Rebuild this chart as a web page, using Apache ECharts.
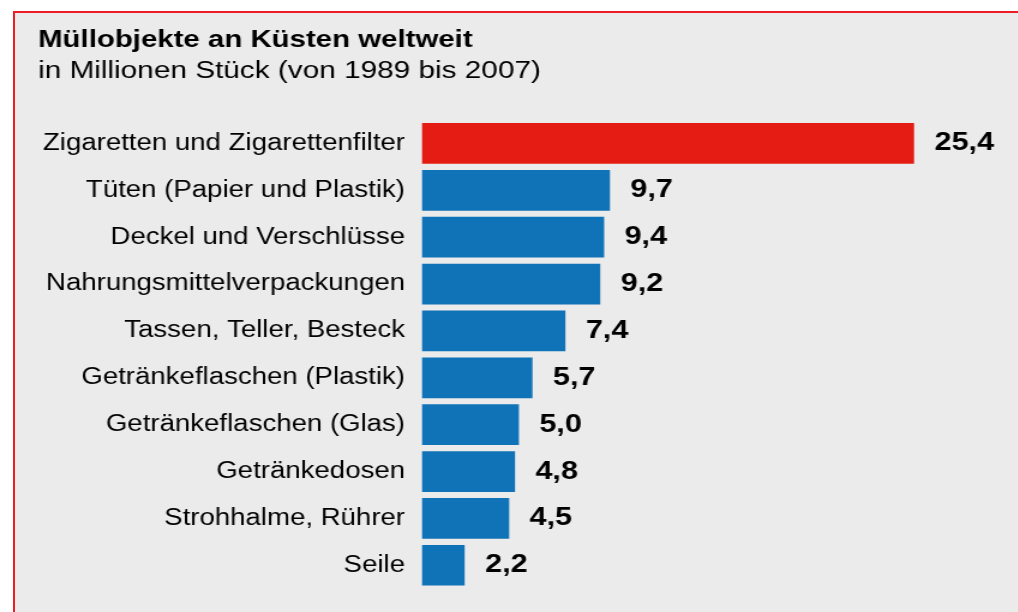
<!DOCTYPE html>
<html>
<head>
<meta charset="utf-8">
<script src="https://cdn.jsdelivr.net/npm/echarts@6/dist/echarts.min.js"></script>
<style>
    html, body {
        margin: 0;
        padding: 0;
        background: #fff;
        overflow: hidden;
    }

    #panel {
        position: absolute;
        left: 13px;
        top: 11px;
        width: 1020px;
        height: 620px;
        background: #ebebeb;
        border-left: 2px solid #ee1d25;
        border-top: 2px solid #ee1d25;
    }

    /* the reference's type is set wide, so the chart is drawn narrower and stretched */
    #chart {
        position: absolute;
        left: 0;
        top: 0;
        width: 848px;
        height: 612px;
        transform: scaleX(1.2);
        transform-origin: 0 0;
    }
</style>
</head>
<body>
<div id="panel"></div>
<div id="chart"></div>
<script>
const categories = [
    'Zigaretten und Zigarettenfilter',
    'Tüten (Papier und Plastik)',
    'Deckel und Verschlüsse',
    'Nahrungsmittelverpackungen',
    'Tassen, Teller, Besteck',
    'Getränkeflaschen (Plastik)',
    'Getränkeflaschen (Glas)',
    'Getränkedosen',
    'Strohhalme, Rührer',
    'Seile'
]
const values = [25.4, 9.7, 9.4, 9.2, 7.4, 5.7, 5.0, 4.8, 4.5, 2.2]

const FONT = "'Liberation Sans', Arial, Helvetica, sans-serif"
const RED = '#e41c13'
const BLUE = '#1073b8'

const formatValue = (v) => v.toFixed(1).replace('.', ',')

let chart = echarts.init(document.getElementById('chart'))
let options = {
    animation: false,
    title: [
        {
            text: 'Müllobjekte an Küsten weltweit',
            left: 31.7,
            top: 28,
            padding: 0,
            textStyle: {
                fontFamily: FONT,
                fontSize: 24.5,
                fontWeight: 'bold',
                color: '#000'
            }
        },
        {
            text: 'in Millionen Stück (von 1989 bis 2007)',
            left: 31.7,
            top: 59,
            padding: 0,
            textStyle: {
                fontFamily: FONT,
                fontSize: 24.8,
                fontWeight: 'normal',
                color: '#000'
            }
        }
    ],
    grid: {
        left: 351.7,
        right: 75,
        top: 120,
        bottom: 23.3,
        containLabel: false
    },
    xAxis: {
        type: 'value',
        min: 0,
        max: 26.1,
        show: false
    },
    yAxis: {
        type: 'category',
        data: categories,
        inverse: true,
        axisLine: {show: false},
        axisTick: {show: false},
        splitLine: {show: false},
        axisLabel: {
            margin: 14.2,
            fontFamily: FONT,
            fontSize: 23,
            color: '#000'
        }
    },
    series: [{
        type: 'bar',
        data: values,
        barWidth: 40.7,
        itemStyle: {
            color: (p) => p.dataIndex === 0 ? RED : BLUE
        },
        label: {
            show: true,
            position: 'right',
            distance: 17,
            formatter: (p) => formatValue(p.value),
            fontFamily: FONT,
            fontSize: 25.5,
            fontWeight: 'bold',
            color: '#000'
        }
    }]
}
chart.setOption(options)
</script>
</body>
</html>
